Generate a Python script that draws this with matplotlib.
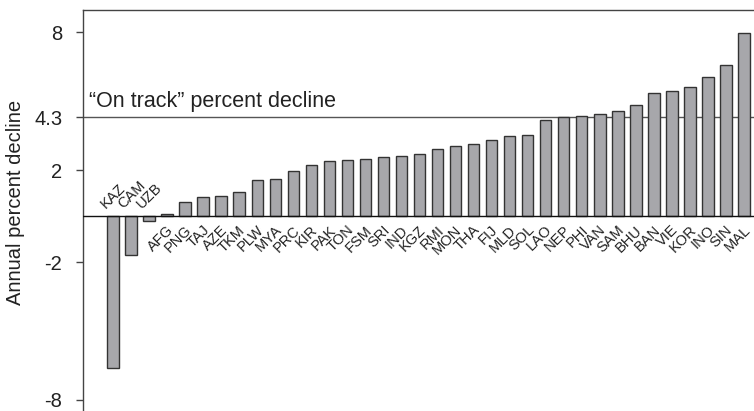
import numpy as np
import matplotlib.pyplot as plt

plt.rcParams['font.family'] = ['Liberation Sans', 'DejaVu Sans']

countries = ['KAZ', 'CAM', 'UZB', 'AFG', 'PNG', 'TAJ', 'AZE', 'TKM', 'PLW', 'MYA',
             'PRC', 'KIR', 'PAK', 'TON', 'FSM', 'SRI', 'IND', 'KGZ', 'RMI', 'MON',
             'THA', 'FIJ', 'MLD', 'SOL', 'LAO', 'NEP', 'PHI', 'VAN', 'SAM', 'BHU',
             'BAN', 'VIE', 'KOR', 'INO', 'SIN', 'MAL']
decline = [-6.6, -1.68, -0.2, 0.1, 0.61, 0.81, 0.87, 1.06, 1.57, 1.62,
           1.97, 2.23, 2.38, 2.43, 2.48, 2.55, 2.61, 2.68, 2.93, 3.06,
           3.13, 3.32, 3.49, 3.51, 4.19, 4.31, 4.34, 4.43, 4.58, 4.83,
           5.36, 5.42, 5.59, 6.05, 6.55, 7.94]
on_track = 4.3
yticks = [8, 4.3, 2, -2, -8]
ytick_labels = ['8', '4.3', '2', '-2', '-8']

fig = plt.figure(figsize=(7.54, 4.11), dpi=100)
ax = fig.add_axes([83 / 754, 0, 1 - 83 / 754, 1 - 10 / 411])

x = np.arange(len(countries))
ax.bar(x, decline, width=0.63, color='#a7a7ab', edgecolor='#333333', linewidth=1.0, zorder=2)

ax.axhline(0, color='#111111', linewidth=1.0, zorder=3)
ax.axhline(on_track, color='#555555', linewidth=1.0, zorder=1)
ax.text(-1.35, on_track + 0.43, '\u201cOn track\u201d percent decline', fontsize=15.5,
        ha='left', va='baseline', color='#222222')

for xi, name, val in zip(x, countries, decline):
    if val < 0:
        ax.text(xi - 0.3, 0.2, name, rotation=45, rotation_mode='anchor',
                ha='left', va='bottom', fontsize=10.5, color='#222222')
    else:
        ax.text(xi - 0.05, -0.3, name, rotation=45, rotation_mode='anchor',
                ha='right', va='top', fontsize=10.5, color='#222222')

ax.set_xlim(-1.66, 35.55)
ax.set_ylim(-8.48, 8.96)
ax.set_xticks([])
ax.set_yticks(yticks)
ax.set_yticklabels(ytick_labels, fontsize=14.5, color='#222222')
ax.tick_params(axis='y', length=5, width=1, pad=10, color='#444444')

for side in ['right', 'bottom']:
    ax.spines[side].set_visible(False)
for side in ['left', 'top']:
    ax.spines[side].set_color('#444444')
    ax.spines[side].set_linewidth(1.0)

fig.text(15.5 / 754, 1 - 202 / 411, 'Annual percent decline', rotation=90,
         ha='center', va='center', fontsize=14.5, color='#222222')

fig.savefig('out.png', dpi=100)
